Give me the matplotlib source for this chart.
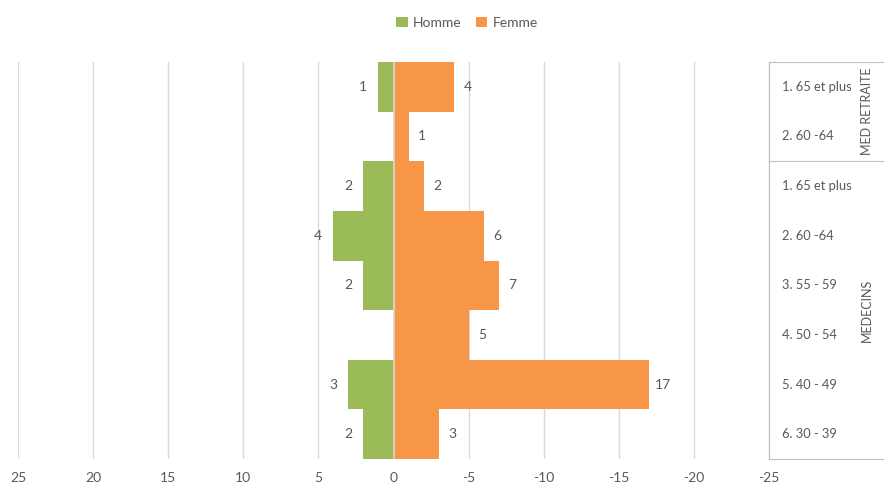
import matplotlib.pyplot as plt
from matplotlib.lines import Line2D

plt.rcParams["font.family"] = ["Lato", "DejaVu Sans"]

# rows from top to bottom
groups = ["MED RETRAITE", "MED RETRAITE", "MEDECINS", "MEDECINS",
          "MEDECINS", "MEDECINS", "MEDECINS", "MEDECINS"]
ages = ["1. 65 et plus", "2. 60 -64", "1. 65 et plus", "2. 60 -64",
        "3. 55 - 59", "4. 50 - 54", "5. 40 - 49", "6. 30 - 39"]
homme = [1, 0, 2, 4, 2, 0, 3, 2]
femme = [-4, -1, -2, -6, -7, -5, -17, -3]
ticks = [25, 20, 15, 10, 5, 0, -5, -10, -15, -20, -25]

GREEN = "#9BBB59"
ORANGE = "#F79646"
GREY = "#595959"
FS = 10

fig = plt.figure(figsize=(8.84, 4.82), dpi=100)
ax = fig.add_axes([18 / 884, 23 / 482, 751 / 884, 397 / 482])

n = len(ages)
ypos = [n - 1 - i for i in range(n)]

ax.barh(ypos, homme, height=1.0, color=GREEN, linewidth=0, label="Homme", zorder=2)
ax.barh(ypos, femme, height=1.0, color=ORANGE, linewidth=0, label="Femme", zorder=2)
ax.axvline(0, color="#D9D9D9", linewidth=1.2, zorder=3)

for y, h, f in zip(ypos, homme, femme):
    if h != 0:
        ax.annotate(str(abs(h)), (h, y), xytext=(-11, 0), textcoords="offset points",
                    ha="center", va="center", fontsize=FS, color=GREY)
    if f != 0:
        ax.annotate(str(abs(f)), (f, y), xytext=(10, 0), textcoords="offset points",
                    ha="center", va="center", fontsize=FS, color=GREY)

ax.set_xlim(25, -25)
ax.set_ylim(-0.5, n - 0.5)
ax.set_xticks(ticks)
ax.set_xticklabels([str(t) for t in ticks])
ax.set_yticks([])
ax.tick_params(axis="x", length=0, pad=9, labelsize=FS, labelcolor=GREY)
ax.grid(axis="x", color="#D9D9D9", linewidth=1, zorder=0)
for s in ax.spines.values():
    s.set_visible(False)

# category box on the right
trans = ax.get_yaxis_transform()
right = 866 / 751
for y, a in zip(ypos, ages):
    ax.text(1.017, y, a, transform=trans, ha="left", va="center", fontsize=9.3, color=GREY)

line_kw = dict(color="#BFBFBF", linewidth=0.8, transform=trans, clip_on=False)
ax.add_line(Line2D([1.0, 1.0], [-0.5, n - 0.5], **line_kw))
ax.add_line(Line2D([1.0, right], [n - 0.5, n - 0.5], **line_kw))
ax.add_line(Line2D([1.0, right], [-0.5, -0.5], **line_kw))

# group separators and labels
start = 0
for i in range(1, n + 1):
    if i == n or groups[i] != groups[start]:
        top = ypos[start] + 0.5
        bottom = ypos[i - 1] - 0.5
        if i != n:
            ax.add_line(Line2D([1.0, right], [bottom, bottom], **line_kw))
        ax.text(1.13, (top + bottom) / 2, groups[start], transform=trans, rotation=90,
                ha="center", va="center", fontsize=9, color=GREY)
        start = i

fig.legend(loc="upper center", bbox_to_anchor=(467 / 884, 1.0), ncol=2, frameon=False,
           fontsize=FS, labelcolor=GREY, handlelength=0.8, handleheight=0.8,
           handletextpad=0.4, columnspacing=1.0, borderaxespad=0.8)

fig.savefig("out.png", dpi=100)
